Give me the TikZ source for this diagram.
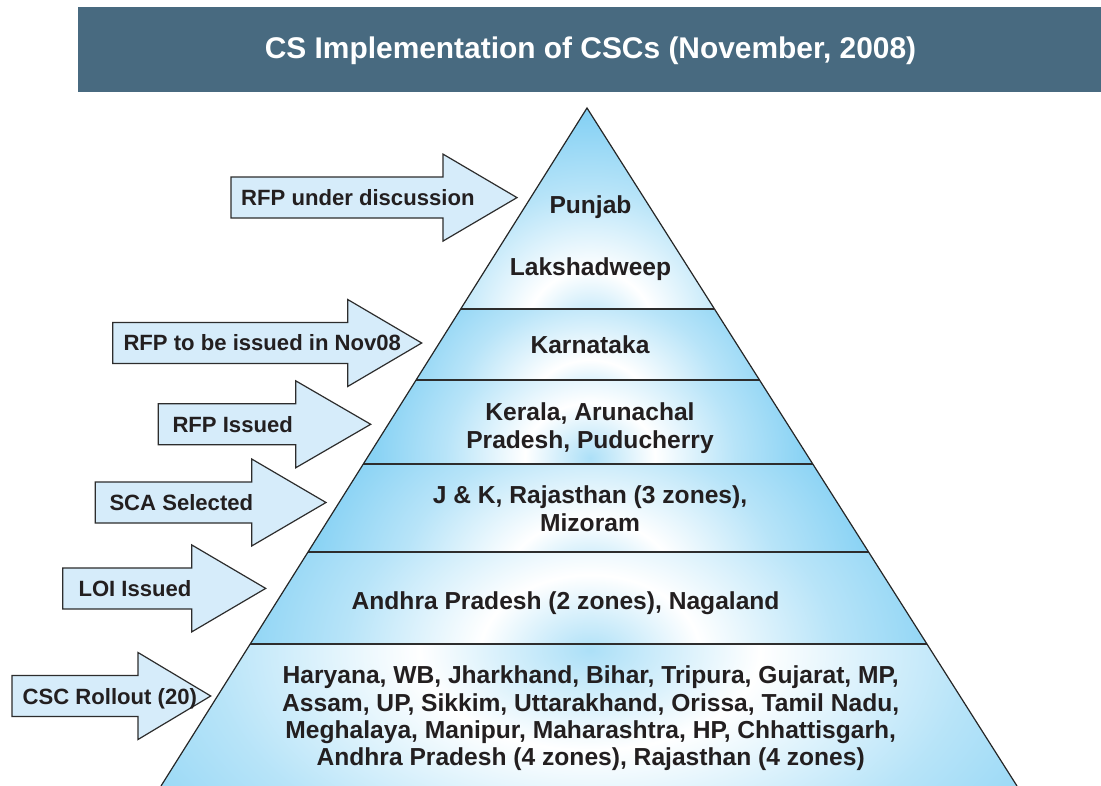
\documentclass[tikz,border=0pt]{standalone}
\usepackage{fontspec}
\setmainfont{Liberation Sans}
\usetikzlibrary{calc}
\definecolor{titlebg}{RGB}{72,106,128}
\definecolor{pblue}{RGB}{136,210,244}
\definecolor{arrowfill}{RGB}{214,236,250}
\definecolor{edgecol}{RGB}{45,45,45}
\definecolor{ink}{RGB}{35,31,32}
\pgfdeclareradialshading{ringshade}{\pgfpoint{0bp}{0bp}}{color(0bp)=(pblue!70!white); color(4.5bp)=(white); color(10bp)=(pblue!60!white); color(15bp)=(pblue); color(50bp)=(pblue)}
\newcommand{\blockarrow}[4]{% left, head base, tip, centre y
  \draw[arrowshape] (#1,#4-20.5) -- (#2,#4-20.5) -- (#2,#4-43.5) -- (#3,#4)
    -- (#2,#4+43.5) -- (#2,#4+20.5) -- (#1,#4+20.5) -- cycle;}
\newcommand{\shadeband}[5]{% path, cx, cy, white-ring radius x, y
  \begin{scope}
    \clip #1;
    \fill[pblue] #1;
    \shade[shading=ringshade] (#2,#3) ellipse ({5.56*#4} and {5.56*#5});
  \end{scope}}
\begin{document}
\begin{tikzpicture}[x=1pt,y=-1pt,
  arrowshape/.style={fill=arrowfill,draw=edgecol,line width=1.2pt,line join=miter},
  sep/.style={draw=edgecol,line width=1.3pt},
  outline/.style={draw=black!85,line width=1.2pt,line join=miter},
  lbl/.style={font=\fontsize{22.1}{24}\selectfont\bfseries,text=ink,inner sep=0pt,anchor=base west},
  ptxt/.style={font=\fontsize{24.6}{28}\selectfont\bfseries,text=ink,inner sep=0pt,align=center},
  ttl/.style={font=\fontsize{29.9}{34}\selectfont\bfseries,text=white,inner sep=0pt,anchor=base}]
\useasboundingbox (0,0) rectangle (1101,786);
\fill[white] (0,0) rectangle (1101,786);
% title bar
\fill[titlebg] (78,7) rectangle (1101,92);
\node[ttl] (title) at (590.5,59) {CS Implementation of CSCs (November, 2008)};
% pyramid geometry
\coordinate (A) at (587,108);
\coordinate (BL) at (161,786);
\coordinate (BR) at (1017,786);
\coordinate (L1) at ($(A)!0.29646!(BL)$); \coordinate (R1) at ($(A)!0.29646!(BR)$);
\coordinate (L2) at ($(A)!0.40118!(BL)$); \coordinate (R2) at ($(A)!0.40118!(BR)$);
\coordinate (L3) at ($(A)!0.52507!(BL)$); \coordinate (R3) at ($(A)!0.52507!(BR)$);
\coordinate (L4) at ($(A)!0.65487!(BL)$); \coordinate (R4) at ($(A)!0.65487!(BR)$);
\coordinate (L5) at ($(A)!0.79056!(BL)$); \coordinate (R5) at ($(A)!0.79056!(BR)$);
% bands
\shadeband{(A) -- (R1) -- (L1) -- cycle}{590}{335}{65}{65}
\shadeband{(L1) -- (R1) -- (R2) -- (L2) -- cycle}{590}{410}{60}{50}
\shadeband{(L2) -- (R2) -- (R3) -- (L3) -- cycle}{590}{458}{65}{55}
\shadeband{(L3) -- (R3) -- (R4) -- (L4) -- cycle}{590}{585}{85}{65}
\shadeband{(L4) -- (R4) -- (R5) -- (L5) -- cycle}{590}{655}{110}{80}
\shadeband{(L5) -- (R5) -- (BR) -- (BL) -- cycle}{590}{650}{170}{100}
% separators and outline
\draw[sep] (L1) -- (R1);
\draw[sep] (L2) -- (R2);
\draw[sep] (L3) -- (R3);
\draw[sep] (L4) -- (R4);
\draw[sep] (L5) -- (R5);
\draw[outline] (BL) -- (A) -- (BR);
% pyramid texts
\node[ptxt,anchor=base] (punjab) at (590.5,213.3) {Punjab};
\node[ptxt,anchor=base] (laksh) at (590.5,275.7) {Lakshadweep};
\node[ptxt,anchor=base] (karn) at (590,354) {Karnataka};
\node[ptxt] (kerala) at (590,428.5) {Kerala, Arunachal\\Pradesh, Puducherry};
\node[ptxt] (jk) at (590,508.4) {J \& K, Rajasthan (3 zones),\\Mizoram};
\node[ptxt,anchor=base] (andhra) at (565.6,609.8) {Andhra Pradesh (2 zones), Nagaland};
\node[ptxt,font=\fontsize{24.6}{27.3}\selectfont\bfseries] (rollout) at (590.7,718.5)
  {Haryana, WB, Jharkhand, Bihar, Tripura, Gujarat, MP,\\
   Assam, UP, Sikkim, Uttarakhand, Orissa, Tamil Nadu,\\
   Meghalaya, Manipur, Maharashtra, HP, Chhattisgarh,\\
   Andhra Pradesh (4 zones), Rajasthan (4 zones)};
% status arrows
\blockarrow{231}{443}{517}{197.6}
\node[lbl] (s1) at (241,205.5) {RFP under discussion};
\blockarrow{112.7}{347.7}{421.7}{343}
\node[lbl] (s2) at (123.3,351) {RFP to be issued in Nov08};
\blockarrow{158.3}{295.7}{370.7}{424.3}
\node[lbl] (s3) at (172.3,432.3) {RFP Issued};
\blockarrow{95.3}{251.7}{326}{502.5}
\node[lbl] (s4) at (109.3,510.5) {SCA Selected};
\blockarrow{62.7}{191.7}{265.7}{588.4}
\node[lbl] (s5) at (78.3,596.4) {LOI Issued};
\blockarrow{12}{138}{210.7}{696}
\node[lbl] (s6) at (22.5,704) {CSC Rollout (20)};
\end{tikzpicture}
\end{document}
